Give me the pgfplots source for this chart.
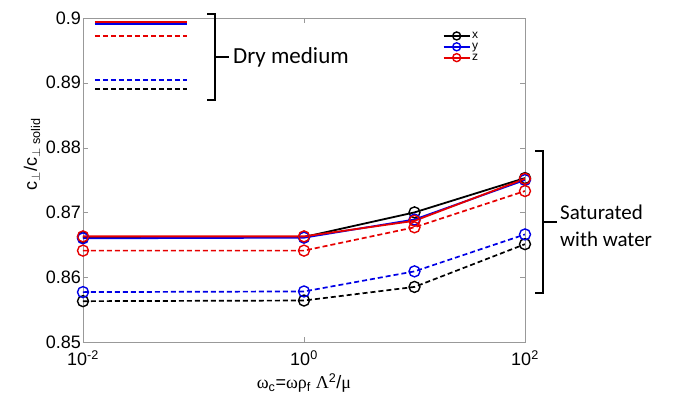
\documentclass[border=0pt]{standalone}
\usepackage{pgfplots}
\pgfplotsset{compat=1.18}
\usepackage{fontspec}
\setmainfont{Liberation Sans}
\newfontfamily\grk{Liberation Serif}
\newfontfamily\calib{Carlito}
\definecolor{mred}{RGB}{230,0,0}
\definecolor{mblue}{RGB}{0,0,230}
\begin{document}
\begin{tikzpicture}[x=1pt,y=1pt]
\useasboundingbox (0,0) rectangle (681,405);
\begin{axis}[
  at={(83pt,63pt)}, anchor=south west, scale only axis,
  width=442pt, height=324pt,
  xmode=log, xmin=0.01, xmax=100, ymin=0.85, ymax=0.9,
  xtick={0.01,1,100},
  xticklabels={10\textsuperscript{-2},10\textsuperscript{0},10\textsuperscript{2}},
  xminorticks=false,
  ytick={0.85,0.86,0.87,0.88,0.89,0.9},
  yticklabels={0.85,0.86,0.87,0.88,0.89,0.9},
  tick label style={font=\fontsize{18}{21}\selectfont, black},
  yticklabel style={inner sep=2pt},
  xticklabel style={yshift=-5pt},
  axis line style={gray!80},
  major tick style={gray!80},
  major tick length=5pt,
  tick align=inside,
  xlabel={{\grk ω}\textsubscript{c}={\grk ωρ}\textsubscript{f} {\grk Λ}\textsuperscript{2}/{\grk μ}},
  xlabel style={font=\fontsize{18}{21}\selectfont, yshift=-1pt},
  ylabel={c\textsubscript{$\perp$}/c\textsubscript{$\perp$ solid}},
  ylabel style={font=\fontsize{18}{21}\selectfont, at={(ticklabel cs:0.58)}},
  legend style={draw=none, fill=none, at={(0.90,0.965)}, anchor=north east,
    font=\fontsize{12}{13}\selectfont, row sep=0pt, inner sep=1pt,
    nodes={inner sep=1.5pt}},
  legend cell align=left,
  legend image code/.code={\draw[mark repeat=2,mark phase=2,#1,mark size=4pt] plot coordinates {(0pt,0pt) (13pt,0pt) (26pt,0pt)};},
  every axis plot/.append style={mark size=5.5pt, mark options={solid, line width=1.4pt}},
]
% saturated solid
\addplot[black, line width=1.8pt, mark=o] coordinates {(0.01,0.8662) (1,0.8662) (10,0.8700) (100,0.8753)};
\addlegendentry{x}
\addplot[mblue, line width=1.8pt, mark=o] coordinates {(0.01,0.8660) (1,0.8661) (10,0.8689) (100,0.8750)};
\addlegendentry{y}
\addplot[mred, line width=1.8pt, mark=o] coordinates {(0.01,0.8663) (1,0.8663) (10,0.8687) (100,0.8752)};
\addlegendentry{z}
% saturated dashed
\addplot[black, line width=1.7pt, dash pattern=on 5pt off 3pt, mark=o, forget plot] coordinates {(0.01,0.8563) (1,0.8564) (10,0.8585) (100,0.8651)};
\addplot[mblue, line width=1.7pt, dash pattern=on 5pt off 3pt, mark=o, forget plot] coordinates {(0.01,0.8577) (1,0.8578) (10,0.8609) (100,0.8666)};
\addplot[mred, line width=1.7pt, dash pattern=on 5pt off 3pt, mark=o, forget plot] coordinates {(0.01,0.8641) (1,0.8641) (10,0.8677) (100,0.8733)};
% dry medium
\addplot[black, line width=1.8pt, forget plot] coordinates {(0.0128,0.8991) (0.088,0.8991)};
\addplot[mblue, line width=1.8pt, forget plot] coordinates {(0.0128,0.8991) (0.088,0.8991)};
\addplot[mred, line width=1.8pt, forget plot] coordinates {(0.0128,0.89935) (0.088,0.89935)};
\addplot[mred, line width=1.7pt, dash pattern=on 5pt off 3pt, forget plot] coordinates {(0.0128,0.8972) (0.088,0.8972)};
\addplot[mblue, line width=1.7pt, dash pattern=on 5pt off 3pt, forget plot] coordinates {(0.0128,0.8904) (0.088,0.8904)};
\addplot[black, line width=1.7pt, dash pattern=on 5pt off 3pt, forget plot] coordinates {(0.0128,0.8890) (0.088,0.8890)};
\end{axis}
% Dry medium bracket
\draw[line width=1.3pt] (207,391) -- (215,391) -- (215,305) -- (207,305);
\draw[line width=1.3pt] (215,348) -- (229,348);
\node[anchor=west, font=\calib\fontsize{23}{26}\selectfont, inner sep=0pt] at (233,348) {Dry medium};
% Saturated bracket
\draw[line width=1.3pt] (535,254) -- (543,254) -- (543,112) -- (535,112);
\draw[line width=1.3pt] (543,183) -- (557,183);
\node[anchor=west, align=left, font=\calib\fontsize{21}{27}\selectfont, inner sep=0pt] at (560,179) {Saturated\\with water};
\end{tikzpicture}
\end{document}
